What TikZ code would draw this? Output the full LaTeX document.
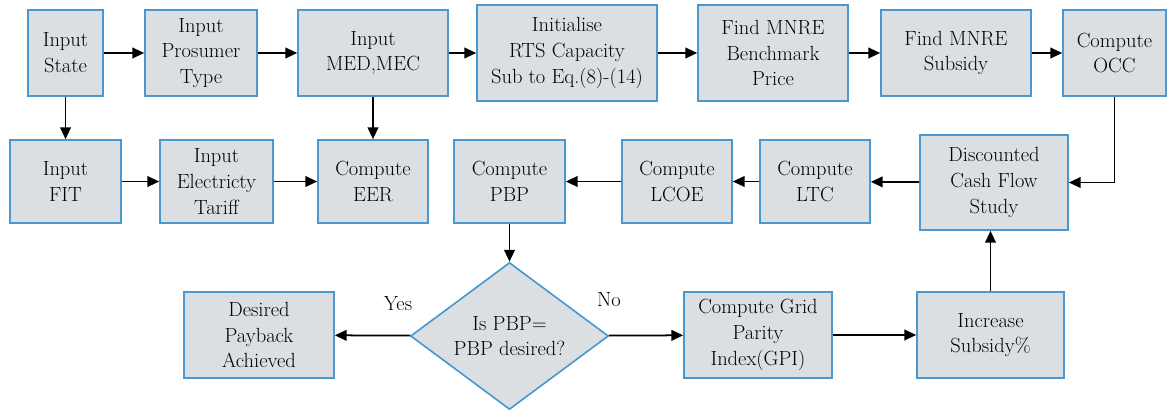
\documentclass[tikz,border=0pt]{standalone}
\usetikzlibrary{shapes.geometric,arrows.meta}

\definecolor{boxblue}{HTML}{4A98D0}
\definecolor{boxgray}{HTML}{DCDFE2}

\tikzset{
	blk/.style={draw=boxblue, fill=boxgray, line width=1.4pt, align=center, inner sep=0pt},
	sz/.style 2 args={minimum width=#1*0.03cm, minimum height=#2*0.03cm},
	flow/.style={line width=1.5pt, -{Triangle[length=10pt,width=9pt]}},
}

\begin{document}
\begin{tikzpicture}[x=0.03cm, y=-0.03cm, font=\fontsize{17.5}{22}\selectfont]
	\useasboundingbox (0,0) rectangle (1168,411);
	
	% first row
	\node[blk, sz={75}{86}] (state) at (65.5,53) {Input\\State};
	\node[blk, sz={112}{86}] (prosumer) at (201,53) {Input\\Prosumer\\Type};
	\node[blk, sz={150}{86}] (medmec) at (373,53) {Input\\MED,MEC};
	\node[blk, sz={180}{96}] (init) at (567,53) {Initialise\\RTS Capacity\\Sub to Eq.(8)-(14)};
	\node[blk, sz={150}{96}] (bench) at (773,53) {Find MNRE\\Benchmark\\Price};
	\node[blk, sz={150}{86}] (subsidy) at (956,53) {Find MNRE\\Subsidy};
	\node[blk, sz={103}{86}] (occ) at (1114.5,53) {Compute\\OCC};
	
	% second row
	\node[blk, sz={111}{83}] (fit) at (65.5,181.5) {Input\\FIT};
	\node[blk, sz={113}{83}] (tariff) at (216.5,181.5) {Input\\Electricty\\Tariff};
	\node[blk, sz={110}{83}] (eer) at (373,181.5) {Compute\\EER};
	\node[blk, sz={111}{83}] (pbp) at (509.5,181.5) {Compute\\PBP};
	\node[blk, sz={110}{83}] (lcoe) at (677,181.5) {Compute\\LCOE};
	\node[blk, sz={110}{83}] (ltc) at (815,181.5) {Compute\\LTC};
	\node[blk, sz={148}{95}] (dcf) at (994,182.5) {Discounted\\Cash Flow\\Study};
	
	% third row
	\node[blk, sz={150}{86}] (desired) at (259,335) {Desired\\Payback\\Achieved};
	\node[blk, diamond, aspect=1.35, sz={198}{147}] (check) at (509.5,336) {Is PBP=\\PBP desired?};
	\node[blk, sz={148}{86}] (gpi) at (758,335) {Compute Grid\\Parity\\Index(GPI)};
	\node[blk, sz={147}{86}] (incr) at (990.5,335) {Increase\\Subsidy\%};
	
	\node (yes) at (398,304) {Yes};
	\node (no) at (609,300) {No};
	
	\draw[flow] (state) -- (prosumer);
	\draw[flow] (prosumer) -- (medmec);
	\draw[flow] (medmec) -- (init);
	\draw[flow] (init) -- (bench);
	\draw[flow] (bench) -- (subsidy);
	\draw[flow] (subsidy) -- (occ);
	
	\draw[flow] (state) -- (fit);
	\draw[flow] (medmec) -- (eer);
	\draw[flow] (fit) -- (tariff);
	\draw[flow] (tariff) -- (eer);
	\draw[flow] (occ.south) |- (dcf.east);
	\draw[flow] (dcf) -- (ltc);
	\draw[flow] (ltc) -- (lcoe);
	\draw[flow] (lcoe) -- (pbp);
	
	\draw[flow] (pbp) -- (check);
	\draw[flow] (check) -- (desired);
	\draw[flow] (check) -- (gpi);
	\draw[flow] (gpi) -- (incr);
	\draw[flow] (incr) -- (incr |- dcf.south);
\end{tikzpicture}
\end{document}
